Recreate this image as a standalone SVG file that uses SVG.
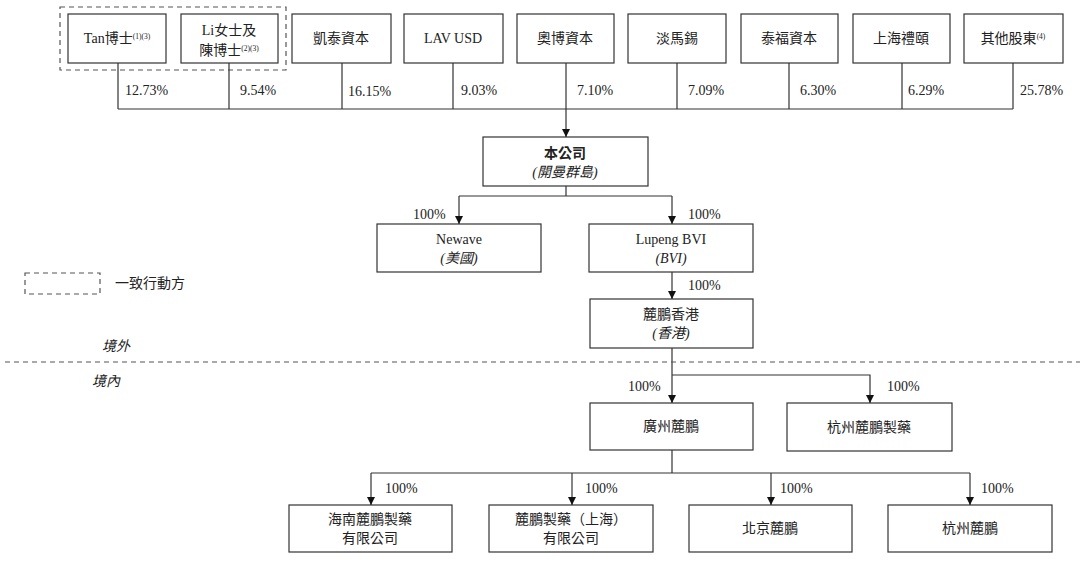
<svg xmlns="http://www.w3.org/2000/svg" width="1080" height="566" viewBox="0 0 1080 566">
<defs>
<style>
.box{fill:#fff;stroke:#333;stroke-width:1.2}
.t{font-family:"Liberation Serif","Noto Sans CJK TC",serif;font-size:14px;fill:#222}
.c{text-anchor:middle}
.i{font-style:italic}
.b{font-weight:bold}
.sup{font-size:7.5px}
.ln{fill:none;stroke:#333;stroke-width:1.2}
.dash{fill:none;stroke:#555;stroke-width:1.2;stroke-dasharray:5,4}
</style>
<marker id="ah" viewBox="0 0 10 10" refX="10" refY="5" markerWidth="8" markerHeight="8" orient="auto" markerUnits="userSpaceOnUse">
<path d="M0,0 L10,5 L0,10 z" fill="#111"/>
</marker>
</defs>
<rect x="0" y="0" width="1080" height="566" fill="#fff"/>

<!-- concert party dashed group -->
<rect class="dash" x="60" y="7" width="226" height="63"/>

<g id="n-tan"><rect class="box" x="68" y="14" width="98" height="49"/><text class="t c" x="117" y="43">Tan博士<tspan class="sup" dy="-4">(1)(3)</tspan></text></g>
<g id="n-li"><rect class="box" x="181" y="14" width="97" height="49"/><text class="t c" x="229" y="35">Li女士及</text><text class="t c" x="229" y="55">陳博士<tspan class="sup" dy="-4">(2)(3)</tspan></text></g>
<g id="n-kaitai"><rect class="box" x="292" y="14" width="99" height="49"/><text class="t c" x="341" y="43">凱泰資本</text></g>
<g id="n-lav"><rect class="box" x="404" y="14" width="99" height="49"/><text class="t c" x="453" y="43">LAV USD</text></g>
<g id="n-aobo"><rect class="box" x="517" y="14" width="97" height="49"/><text class="t c" x="565" y="43">奧博資本</text></g>
<g id="n-temasek"><rect class="box" x="628" y="14" width="98" height="49"/><text class="t c" x="677" y="43">淡馬錫</text></g>
<g id="n-taifu"><rect class="box" x="741" y="14" width="97" height="49"/><text class="t c" x="789" y="43">泰福資本</text></g>
<g id="n-liyi"><rect class="box" x="853" y="14" width="97" height="49"/><text class="t c" x="901" y="43">上海禮頤</text></g>
<g id="n-others"><rect class="box" x="964" y="14" width="99" height="49"/><text class="t c" x="1013" y="43">其他股東<tspan class="sup" dy="-4">(4)</tspan></text></g>

<g id="n-company"><rect class="box" x="483" y="137" width="165" height="49"/><text class="t c b" x="565" y="158">本公司</text><text class="t c i" x="565" y="177">(開曼群島)</text></g>
<g id="n-newave"><rect class="box" x="377" y="224" width="164" height="48"/><text class="t c" x="459" y="244">Newave</text><text class="t c i" x="459" y="263">(美國)</text></g>
<g id="n-bvi"><rect class="box" x="589" y="224" width="164" height="48"/><text class="t c" x="671" y="244">Lupeng BVI</text><text class="t c i" x="671" y="263">(BVI)</text></g>
<g id="n-hk"><rect class="box" x="590" y="299" width="163" height="49"/><text class="t c" x="671" y="319">麓鵬香港</text><text class="t c i" x="671" y="338">(香港)</text></g>
<g id="n-gz"><rect class="box" x="590" y="403" width="163" height="47"/><text class="t c" x="671" y="431">廣州麓鵬</text></g>
<g id="n-hzpharma"><rect class="box" x="787" y="403" width="165" height="48"/><text class="t c" x="869" y="432">杭州麓鵬製藥</text></g>
<g id="n-hainan"><rect class="box" x="289" y="505" width="163" height="47"/><text class="t c" x="370" y="524">海南麓鵬製藥</text><text class="t c" x="370" y="543">有限公司</text></g>
<g id="n-sh"><rect class="box" x="489" y="505" width="164" height="47"/><text class="t c" x="571" y="524">麓鵬製藥（上海）</text><text class="t c" x="571" y="543">有限公司</text></g>
<g id="n-bj"><rect class="box" x="689" y="505" width="163" height="47"/><text class="t c" x="770" y="533">北京麓鵬</text></g>
<g id="n-hz"><rect class="box" x="888" y="505" width="164" height="47"/><text class="t c" x="970" y="533">杭州麓鵬</text></g>

<g id="connectors">
<path class="ln" d="M118,63V109 M229,63V109 M342,63V109 M453,63V109 M677,63V109 M789,63V109 M902,63V109 M1013,63V109 M118,109H1013"/>
<path class="ln" d="M566,63V137" marker-end="url(#ah)"/>
<path class="ln" d="M566,186V196 M459,196H672"/>
<path class="ln" d="M459,196V224" marker-end="url(#ah)"/>
<path class="ln" d="M672,196V224" marker-end="url(#ah)"/>
<path class="ln" d="M672,272V299" marker-end="url(#ah)"/>
<path class="ln" d="M672,348V403" marker-end="url(#ah)"/>
<path class="ln" d="M672,375H870V403" marker-end="url(#ah)"/>
<path class="ln" d="M672,450V473 M371,473H970"/>
<path class="ln" d="M371,473V505" marker-end="url(#ah)"/>
<path class="ln" d="M572,473V505" marker-end="url(#ah)"/>
<path class="ln" d="M771,473V505" marker-end="url(#ah)"/>
<path class="ln" d="M970,473V505" marker-end="url(#ah)"/>
</g>

<g id="labels">
<text class="t" x="125" y="95">12.73%</text>
<text class="t" x="240" y="95">9.54%</text>
<text class="t" x="348" y="96">16.15%</text>
<text class="t" x="461" y="95">9.03%</text>
<text class="t" x="577" y="95">7.10%</text>
<text class="t" x="688" y="95">7.09%</text>
<text class="t" x="800" y="95">6.30%</text>
<text class="t" x="908" y="95">6.29%</text>
<text class="t" x="1020" y="95">25.78%</text>
<text class="t" x="413" y="219">100%</text>
<text class="t" x="688" y="219">100%</text>
<text class="t" x="688" y="290">100%</text>
<text class="t" x="628" y="391">100%</text>
<text class="t" x="887" y="391">100%</text>
<text class="t" x="385" y="493">100%</text>
<text class="t" x="585" y="493">100%</text>
<text class="t" x="780" y="493">100%</text>
<text class="t" x="981" y="493">100%</text>
</g>

<g id="legend">
<rect class="dash" x="25" y="273" width="75" height="21"/>
<text class="t" x="115" y="288">一致行動方</text>
</g>

<g id="border">
<path class="dash" d="M5,362H1080"/>
<text class="t i" x="102" y="351">境外</text>
<text class="t i" x="92" y="386">境內</text>
</g>
</svg>
